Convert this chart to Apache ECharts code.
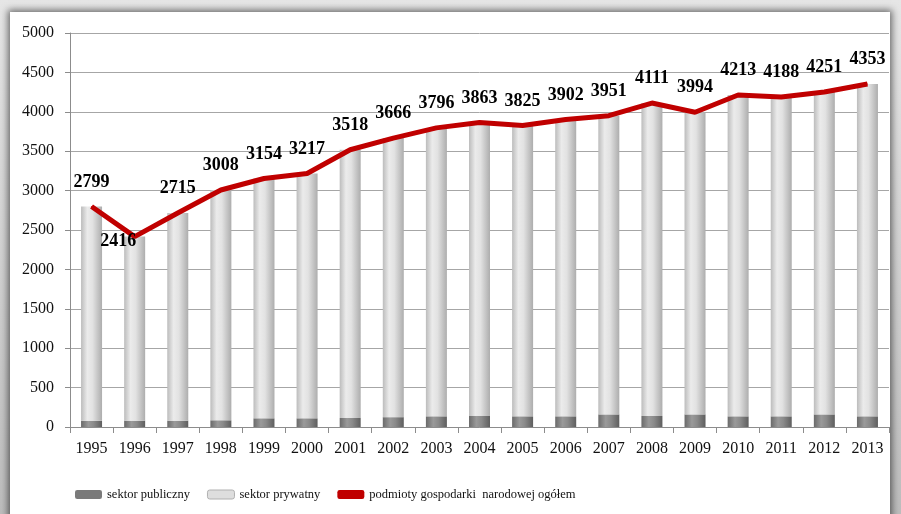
<!DOCTYPE html>
<html>
<head>
<meta charset="utf-8">
<script src="https://cdn.jsdelivr.net/npm/echarts@6/dist/echarts.min.js"></script>
<style>
  html, body { margin: 0; padding: 0; width: 901px; height: 514px; overflow: hidden;
    background: linear-gradient(#e6e6e6, #bdbdbd); }
  #frame { position: absolute; left: 10px; top: 12px; width: 880px; height: 540px; background: #fff;
    box-shadow: 0 0 7px 2px rgba(0,0,0,0.55); }
  #chart { position: absolute; left: 0; top: 0; width: 901px; height: 514px; }
</style>
</head>
<body>
<div id="frame"></div>
<div id="chart"></div>
<script>
const years = ['1995','1996','1997','1998','1999','2000','2001','2002','2003','2004','2005','2006','2007','2008','2009','2010','2011','2012','2013'];
const totals = [2799,2416,2715,3008,3154,3217,3518,3666,3796,3863,3825,3902,3951,4111,3994,4213,4188,4251,4353];
const publicSector = [80,80,80,85,110,110,115,125,135,140,135,135,160,140,160,135,135,160,135];
const privateSector = totals.map((t, i) => t - publicSector[i]);
const seriesNames = ['sektor publiczny', 'sektor prywatny', 'podmioty gospodarki  narodowej ogółem'];

const serif = '"Liberation Serif", "DejaVu Serif", serif';
const chart = echarts.init(document.getElementById('chart'), null, { renderer: 'canvas' });

const gradDark = new echarts.graphic.LinearGradient(0, 0, 1, 0, [
  { offset: 0, color: '#6a6a6a' }, { offset: 0.35, color: '#9a9a9a' },
  { offset: 0.6, color: '#8a8a8a' }, { offset: 1, color: '#5e5e5e' }
]);
const gradLight = new echarts.graphic.LinearGradient(0, 0, 1, 0, [
  { offset: 0, color: '#bcbcbc' }, { offset: 0.3, color: '#ebebeb' },
  { offset: 0.55, color: '#e2e2e2' }, { offset: 1, color: '#adadad' }
]);

chart.setOption({
  animation: false,
  backgroundColor: 'transparent',
  grid: { left: 70, right: 12, top: 33, bottom: 87 },
  legend: {
    left: 70, top: 483, itemWidth: 27, itemHeight: 9, itemGap: 17,
    textStyle: { fontFamily: serif, fontSize: 12.5, color: '#111' },
    data: [
      { name: seriesNames[0], icon: 'roundRect', itemStyle: { color: '#7a7a7a' } },
      { name: seriesNames[1], icon: 'roundRect', itemStyle: { color: '#dedede', borderColor: '#b0b0b0', borderWidth: 1 } },
      { name: seriesNames[2], icon: 'roundRect', itemStyle: { color: '#c00000' } }
    ]
  },
  xAxis: {
    type: 'category', data: years,
    axisLine: { lineStyle: { color: '#8c8c8c', width: 1 } },
    axisTick: { show: true, alignWithLabel: false, length: 6, lineStyle: { color: '#8c8c8c' } },
    axisLabel: { fontFamily: serif, fontSize: 16, color: '#111', margin: 14 }
  },
  yAxis: {
    type: 'value', min: 0, max: 5000, interval: 500,
    axisLine: { show: true, lineStyle: { color: '#8c8c8c', width: 1 } },
    axisTick: { show: true, length: 5, lineStyle: { color: '#8c8c8c' } },
    axisLabel: { fontFamily: serif, fontSize: 16, color: '#111', margin: 16, formatter: v => String(v) },
    splitLine: { lineStyle: { color: '#a6a6a6', width: 1 } }
  },
  series: [
    {
      name: seriesNames[0], type: 'bar', stack: 'a', barWidth: 21,
      data: publicSector,
      itemStyle: { color: gradDark }
    },
    {
      name: seriesNames[1], type: 'bar', stack: 'a', barWidth: 21,
      data: privateSector,
      itemStyle: { color: gradLight }
    },
    {
      name: seriesNames[2], type: 'line', z: 5,
      data: totals.map((v, i) => i === 1
        ? { value: v, label: { position: 'left', distance: 0, offset: [2, 5] } }
        : v),
      symbol: 'circle', symbolSize: 1,
      itemStyle: { color: '#c00000' },
      lineStyle: { color: '#c00000', width: 5 },
      label: {
        show: true, position: 'top', distance: 15,
        fontFamily: serif, fontSize: 18, fontWeight: 'bold', color: '#000'
      }
    }
  ]
});
</script>
</body>
</html>
